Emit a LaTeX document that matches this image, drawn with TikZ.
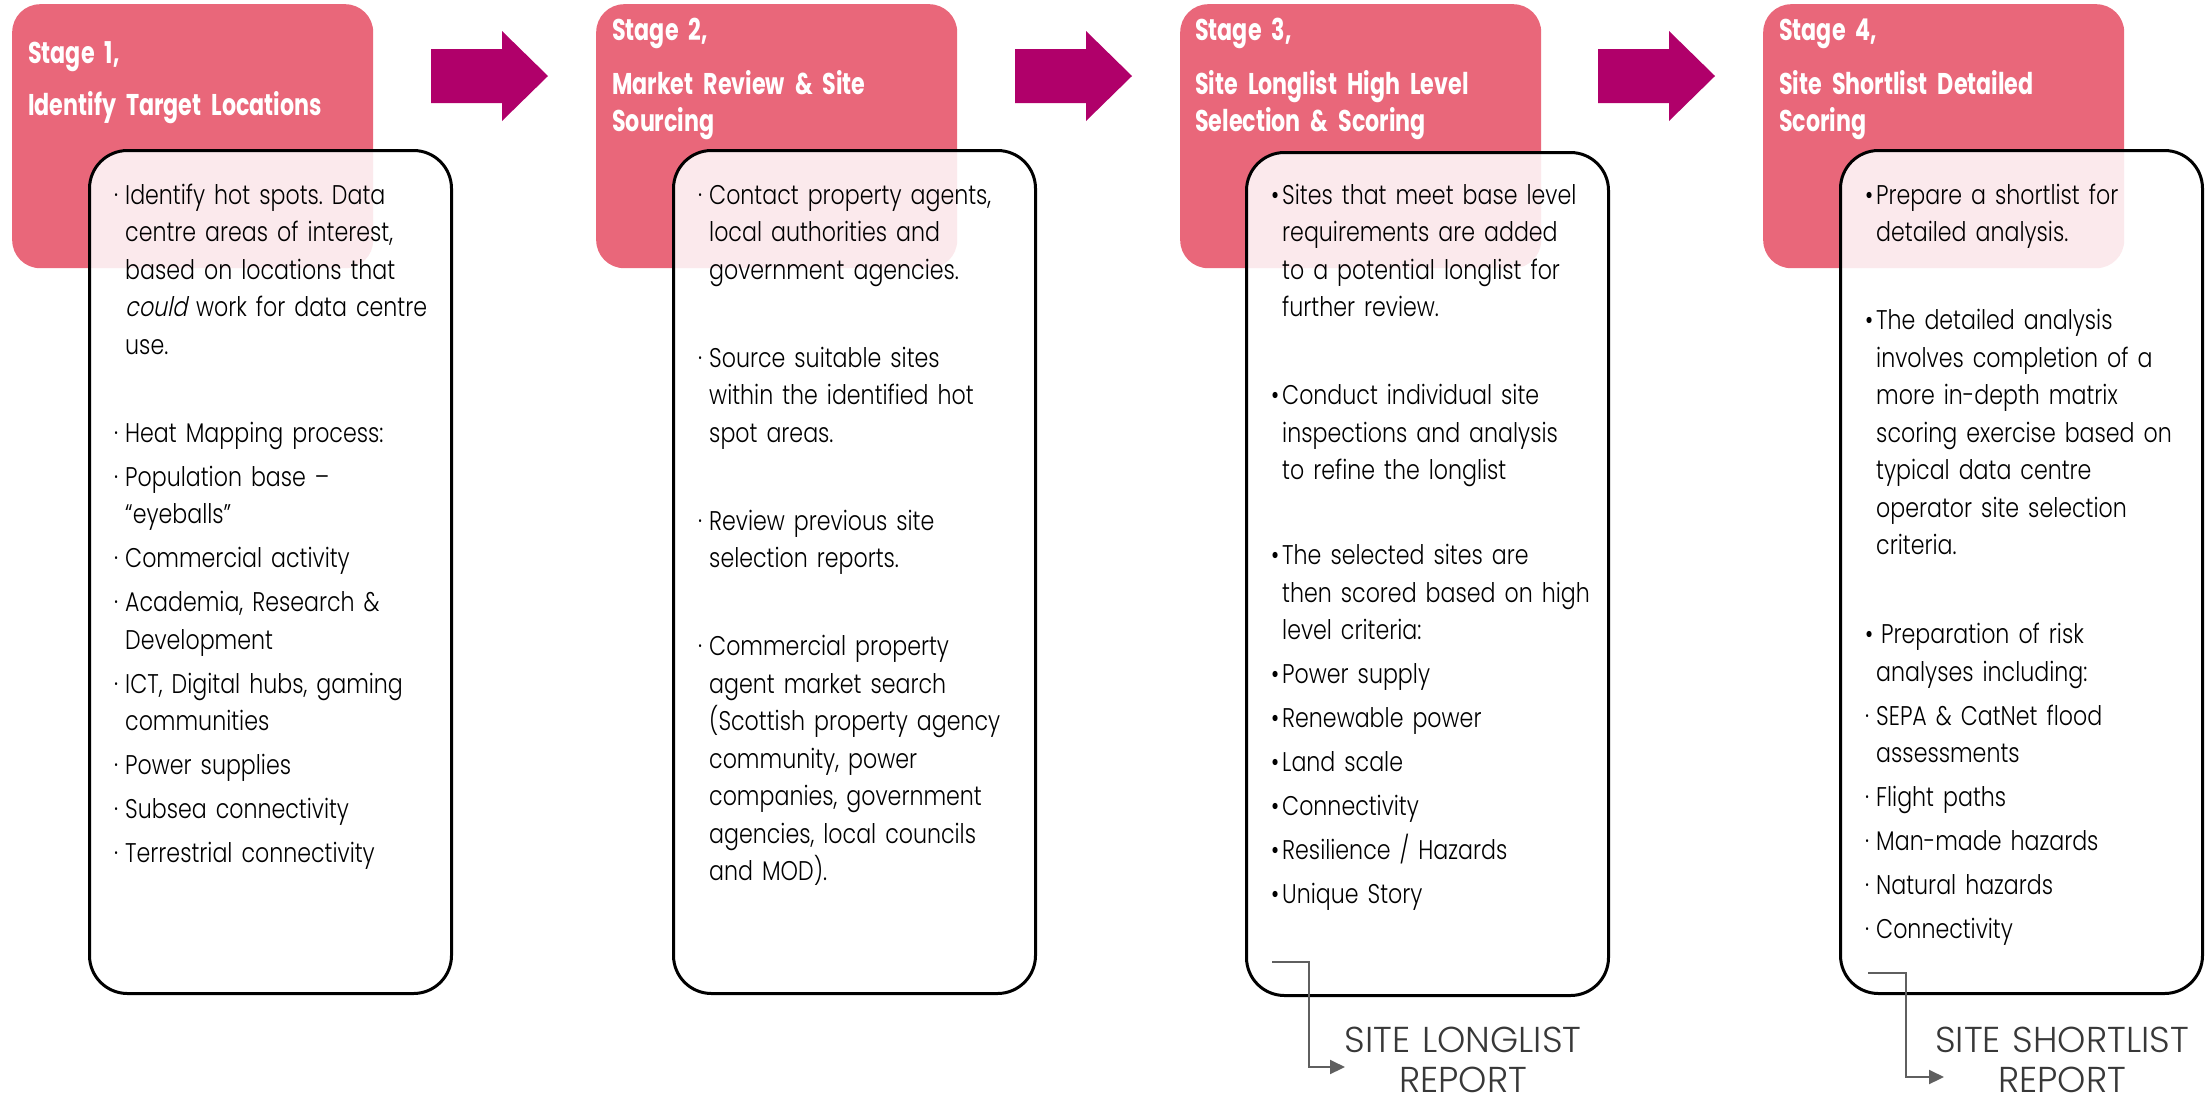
\documentclass[tikz,border=0pt]{standalone}
\usepackage{fontspec}
\usetikzlibrary{arrows.meta}

\IfFontExistsTF{Poppins Light}{%
  \newfontfamily\bodyfont{Poppins Light}[FakeStretch=0.82,ItalicFont={Poppins Light},ItalicFeatures={FakeSlant=0.2}]
  \newfontfamily\repfont{Poppins Light}[FakeStretch=1.0]
}{%
  \newfontfamily\bodyfont{Poppins}[FakeStretch=0.82,ItalicFont={Poppins},ItalicFeatures={FakeSlant=0.2}]
  \newfontfamily\repfont{Poppins}[FakeStretch=1.0]
}
\IfFontExistsTF{Poppins Bold}{%
  \newfontfamily\headfont{Poppins Bold}[FakeStretch=0.74]
}{%
  \newfontfamily\headfont{Poppins}[FakeStretch=0.77,FakeBold=1.5]
}

\definecolor{stagepink}{RGB}{233,103,122}
\definecolor{flowarrow}{RGB}{176,0,106}
\definecolor{repgray}{RGB}{95,95,95}

% bullets with a hanging indent
\newcommand{\bl}{\makebox[11pt][l]{\textperiodcentered}}
\newcommand{\bb}{\makebox[11pt][l]{\textbullet}}
\newcommand{\ind}{\hspace*{11pt}}
\frenchspacing

\begin{document}
\begin{tikzpicture}[x=1pt,y=-1pt,
  stagebox/.style={fill=stagepink,rounded corners=28pt,anchor=north west,
    minimum width=361pt,minimum height=264pt,inner sep=0pt},
  listbox/.style={draw=black,line width=3pt,fill=white,fill opacity=0.86,
    rounded corners=38pt,anchor=north west,minimum width=362pt,
    minimum height=843pt,inner sep=0pt},
  headtext/.style={text=white,font=\headfont\fontsize{30}{37}\selectfont,
    anchor=base west,inner sep=0pt,align=left,text width=400pt},
  bodytext/.style={font=\bodyfont\fontsize{27}{37.5}\selectfont,
    anchor=base west,inner sep=0pt,align=left,text width=400pt},
  reptext/.style={text=black!78,font=\repfont\fontsize{36}{40}\selectfont,
    anchor=base,inner sep=0pt,align=center,text width=340pt},
  repline/.style={draw=repgray,line width=2pt,-{Triangle[length=15pt,width=14pt]}}]
 \useasboundingbox (0,0) rectangle (2211,1104);

 % stage headers and flow arrows
 \foreach \i/\x in {1/12,2/596,3/1180,4/1763}
   \node[stagebox] (s\i) at (\x,4) {};
 \foreach \x in {431,1015,1598}
   \fill[flowarrow] (\x,49) -- ++(71,0) -- ++(0,-18) -- ++(46,45)
     -- ++(-46,45) -- ++(0,-18) -- ++(-71,0) -- cycle;

 \node[headtext] (h1) at (28,63) {Stage 1,\\[15pt]Identify Target Locations};
 \node[headtext] (h2) at (612,40) {Stage 2,\\[17pt]Market Review \& Site\\Sourcing};
 \node[headtext] (h3) at (1195,40) {Stage 3,\\[17pt]Site Longlist High Level\\Selection \& Scoring};
 \node[headtext] (h4) at (1779,40) {Stage 4,\\[17pt]Site Shortlist Detailed\\Scoring};

 % list boxes
 \foreach \i/\x/\y in {1/88/149,2/672/149,3/1245/151,4/1839/149}
   \node[listbox] (c\i) at (\x,\y) {};

 \node[bodytext] (t1) at (114,204) {\bl Identify hot spots. Data\\
   \ind centre areas of interest,\\
   \ind based on locations that\\
   \ind \textit{could} work for data centre\\
   \ind use.\\[50.5pt]
   \bl Heat Mapping process:\\[6.5pt]
   \bl Population base –\\
   \ind “eyeballs”\\[6.5pt]
   \bl Commercial activity\\[6.5pt]
   \bl Academia, Research \&\\
   \ind Development\\[6.5pt]
   \bl ICT, Digital hubs, gaming\\
   \ind communities\\[6.5pt]
   \bl Power supplies\\[6.5pt]
   \bl Subsea connectivity\\[6.5pt]
   \bl Terrestrial connectivity};

 \node[bodytext] (t2) at (698,204) {\bl Contact property agents,\\
   \ind local authorities and\\
   \ind government agencies.\\[50.5pt]
   \bl Source suitable sites\\
   \ind within the identified hot\\
   \ind spot areas.\\[50.5pt]
   \bl Review previous site\\
   \ind selection reports.\\[50.5pt]
   \bl Commercial property\\
   \ind agent market search\\
   \ind (Scottish property agency\\
   \ind community, power\\
   \ind companies, government\\
   \ind agencies, local councils\\
   \ind and MOD).};

 \node[bodytext] (t3) at (1271,204) {\bb Sites that meet base level\\
   \ind requirements are added\\
   \ind to a potential longlist for\\
   \ind further review.\\[50.5pt]
   \bb Conduct individual site\\
   \ind inspections and analysis\\
   \ind to refine the longlist\\[47.5pt]
   \bb The selected sites are\\
   \ind then scored based on high\\
   \ind level criteria:\\[6.5pt]
   \bb Power supply\\[6.5pt]
   \bb Renewable power\\[6.5pt]
   \bb Land scale\\[6.5pt]
   \bb Connectivity\\[6.5pt]
   \bb Resilience / Hazards\\[6.5pt]
   \bb Unique Story};

 \node[bodytext] (t4) at (1865,204) {\bb Prepare a shortlist for\\
   \ind detailed analysis.\\[50.5pt]
   \bb The detailed analysis\\
   \ind involves completion of a\\
   \ind more in-depth matrix\\
   \ind scoring exercise based on\\
   \ind typical data centre\\
   \ind operator site selection\\
   \ind criteria.\\[51.5pt]
   \bb\hspace{5pt}Preparation of risk\\
   \ind analyses including:\\[6.5pt]
   \bl SEPA \& CatNet flood\\
   \ind assessments\\[6.5pt]
   \bl Flight paths\\[6.5pt]
   \bl Man-made hazards\\[6.5pt]
   \bl Natural hazards\\[6.5pt]
   \bl Connectivity};

 % report outputs
 \node[reptext] (rep3) at (1463,1052) {SITE LONGLIST\\REPORT};
 \node[reptext] (rep4) at (2062,1052) {SITE SHORTLIST\\REPORT};
 \coordinate (l3) at (1272,962);
 \coordinate (a3) at (1345,1067);
 \coordinate (l4) at (1868,973);
 \coordinate (a4) at (1944,1077);
 \draw[repline] (l3) -- ++(37,0) |- (a3);
 \draw[repline] (l4) -- ++(38,0) |- (a4);
\end{tikzpicture}
\end{document}
